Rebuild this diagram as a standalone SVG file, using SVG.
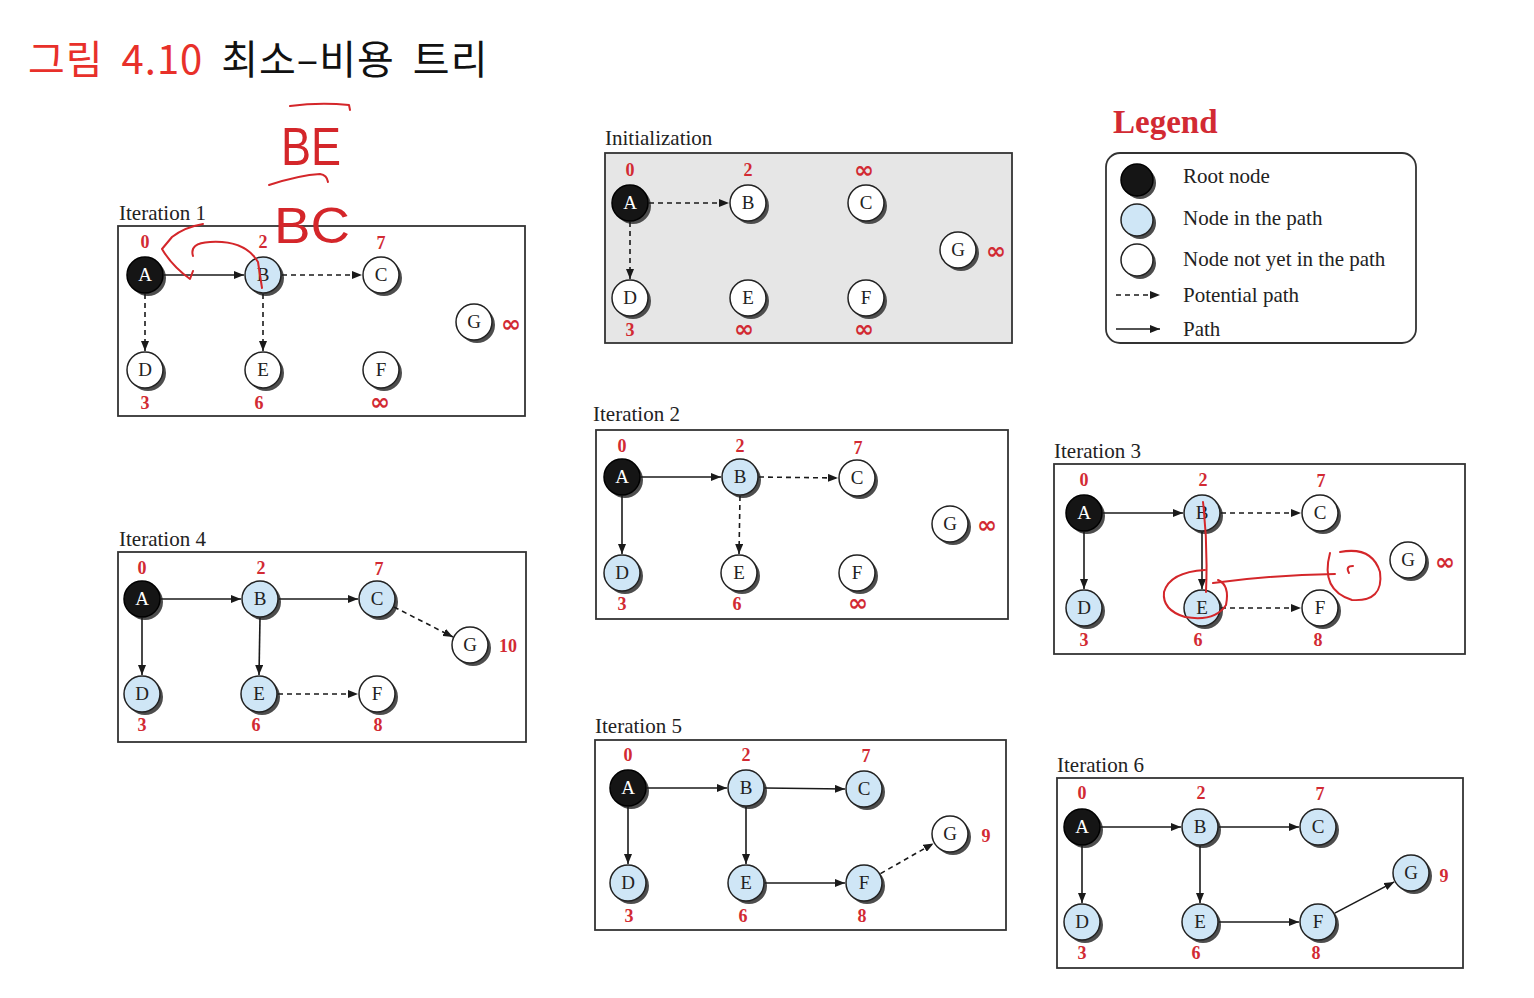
<svg xmlns="http://www.w3.org/2000/svg" width="1534" height="998" viewBox="0 0 1534 998">
<defs>
<marker id="ah" markerUnits="userSpaceOnUse" markerWidth="10" markerHeight="8" refX="10" refY="4" orient="auto"><path d="M0,0 L10,4 L0,8 z" fill="#1a1a1a"/></marker>
<style>
.ttl{font-family:"Liberation Serif",serif;font-size:21px;fill:#222}
.num{font-family:"Liberation Serif",serif;font-size:18px;font-weight:bold;fill:#d22a33;text-anchor:middle}
.inf{font-family:"DejaVu Sans",sans-serif;font-size:24px;font-weight:bold;fill:#d22a33;text-anchor:middle}
.nt{font-family:"Liberation Serif",serif;font-size:19px;text-anchor:middle;fill:#222}
.w{fill:#fff}
.sh{fill:#4d4d4d}
.root{fill:#151515;stroke:#000;stroke-width:1.5}
.inp{fill:#cfe6f6;stroke:#222;stroke-width:1.5}
.not{fill:#fff;stroke:#222;stroke-width:1.5}
.panel{fill:#fff;stroke:#333;stroke-width:1.8}
.solid{stroke:#1a1a1a;stroke-width:1.6;fill:none;marker-end:url(#ah)}
.dash{stroke:#1a1a1a;stroke-width:1.6;fill:none;stroke-dasharray:5,4;marker-end:url(#ah)}
.ink{stroke:#d4262a;stroke-width:2;fill:none;stroke-linecap:round;stroke-linejoin:round}
.hand{font-family:"Liberation Sans",sans-serif;fill:#d4262a;font-weight:normal}
.leg{font-family:"Liberation Serif",serif;font-size:21px;fill:#222}
</style>
</defs>
<rect width="1534" height="998" fill="#fff"/>

<text x="28" y="74" font-family="'Noto Sans CJK KR',sans-serif" font-size="40" letter-spacing="1" word-spacing="8"><tspan fill="#e8302a">그림 4.10</tspan><tspan fill="#111"> 최소–비용 트리</tspan></text>

<!-- Iteration 1 -->
<g id="iter1">
<text class="ttl" x="119" y="220">Iteration 1</text>
<rect class="panel" x="118" y="226" width="407" height="190"/>
<g id="i1-A"><circle class="sh" cx="148" cy="278" r="18"/><circle class="root" cx="145" cy="275" r="18"/><text class="nt w" x="145" y="281">A</text></g>
<g id="i1-B"><circle class="sh" cx="266" cy="278" r="18"/><circle class="inp" cx="263" cy="275" r="18"/><text class="nt" x="263" y="281">B</text></g>
<g id="i1-C"><circle class="sh" cx="384" cy="278" r="18"/><circle class="not" cx="381" cy="275" r="18"/><text class="nt" x="381" y="281">C</text></g>
<g id="i1-D"><circle class="sh" cx="148" cy="373" r="18"/><circle class="not" cx="145" cy="370" r="18"/><text class="nt" x="145" y="376">D</text></g>
<g id="i1-E"><circle class="sh" cx="266" cy="373" r="18"/><circle class="not" cx="263" cy="370" r="18"/><text class="nt" x="263" y="376">E</text></g>
<g id="i1-F"><circle class="sh" cx="384" cy="373" r="18"/><circle class="not" cx="381" cy="370" r="18"/><text class="nt" x="381" y="376">F</text></g>
<g id="i1-G"><circle class="sh" cx="477" cy="325" r="18"/><circle class="not" cx="474" cy="322" r="18"/><text class="nt" x="474" y="328">G</text></g>
<text class="num" x="145" y="248">0</text><text class="num" x="263" y="248">2</text><text class="num" x="381" y="249">7</text>
<text class="num" x="145" y="409">3</text><text class="num" x="259" y="409">6</text><text class="inf" x="380" y="410">∞</text>
<text class="inf" x="511" y="332">∞</text>
</g>

<!-- Initialization -->
<g id="init">
<text class="ttl" x="605" y="145">Initialization</text>
<rect class="panel" x="605" y="153" width="407" height="190" style="fill:#e6e6e6"/>
<g id="in-A"><circle class="sh" cx="633" cy="206" r="18"/><circle class="root" cx="630" cy="203" r="18"/><text class="nt w" x="630" y="209">A</text></g>
<g id="in-B"><circle class="sh" cx="751" cy="206" r="18"/><circle class="not" cx="748" cy="203" r="18"/><text class="nt" x="748" y="209">B</text></g>
<g id="in-C"><circle class="sh" cx="869" cy="206" r="18"/><circle class="not" cx="866" cy="203" r="18"/><text class="nt" x="866" y="209">C</text></g>
<g id="in-D"><circle class="sh" cx="633" cy="301" r="18"/><circle class="not" cx="630" cy="298" r="18"/><text class="nt" x="630" y="304">D</text></g>
<g id="in-E"><circle class="sh" cx="751" cy="301" r="18"/><circle class="not" cx="748" cy="298" r="18"/><text class="nt" x="748" y="304">E</text></g>
<g id="in-F"><circle class="sh" cx="869" cy="301" r="18"/><circle class="not" cx="866" cy="298" r="18"/><text class="nt" x="866" y="304">F</text></g>
<g id="in-G"><circle class="sh" cx="961" cy="253" r="18"/><circle class="not" cx="958" cy="250" r="18"/><text class="nt" x="958" y="256">G</text></g>
<text class="num" x="630" y="176">0</text><text class="num" x="748" y="176">2</text><text class="inf" x="864" y="178">∞</text>
<text class="num" x="630" y="336">3</text><text class="inf" x="744" y="337">∞</text><text class="inf" x="864" y="337">∞</text>
<text class="inf" x="996" y="259">∞</text>
</g>

<!-- Legend -->
<g id="legend">
<text x="1113" y="133" font-family="'Liberation Serif',serif" font-size="33" font-weight="bold" fill="#d22a33">Legend</text>
<rect x="1106" y="153" width="310" height="190" rx="14" fill="#fff" stroke="#333" stroke-width="1.8"/>
<g id="lg-root"><circle class="sh" cx="1140" cy="183" r="16"/><circle class="root" cx="1137" cy="180" r="16"/></g>
<g id="lg-inp"><circle class="sh" cx="1140" cy="223" r="16"/><circle class="inp" cx="1137" cy="220" r="16"/></g>
<g id="lg-not"><circle class="sh" cx="1140" cy="263" r="16"/><circle class="not" cx="1137" cy="260" r="16"/></g>
<line class="dash" x1="1116" y1="295" x2="1160" y2="295"/>
<line class="solid" x1="1116" y1="329" x2="1160" y2="329"/>
<text class="leg" x="1183" y="183">Root node</text>
<text class="leg" x="1183" y="225">Node in the path</text>
<text class="leg" x="1183" y="266">Node not yet in the path</text>
<text class="leg" x="1183" y="302">Potential path</text>
<text class="leg" x="1183" y="336">Path</text>
</g>

<!-- Iteration 2 -->
<g id="iter2">
<text class="ttl" x="593" y="421">Iteration 2</text>
<rect class="panel" x="596" y="430" width="412" height="189"/>
<g id="i2-A"><circle class="sh" cx="625" cy="480" r="18"/><circle class="root" cx="622" cy="477" r="18"/><text class="nt w" x="622" y="483">A</text></g>
<g id="i2-B"><circle class="sh" cx="743" cy="480" r="18"/><circle class="inp" cx="740" cy="477" r="18"/><text class="nt" x="740" y="483">B</text></g>
<g id="i2-C"><circle class="sh" cx="860" cy="481" r="18"/><circle class="not" cx="857" cy="478" r="18"/><text class="nt" x="857" y="484">C</text></g>
<g id="i2-D"><circle class="sh" cx="625" cy="576" r="18"/><circle class="inp" cx="622" cy="573" r="18"/><text class="nt" x="622" y="579">D</text></g>
<g id="i2-E"><circle class="sh" cx="742" cy="576" r="18"/><circle class="not" cx="739" cy="573" r="18"/><text class="nt" x="739" y="579">E</text></g>
<g id="i2-F"><circle class="sh" cx="860" cy="576" r="18"/><circle class="not" cx="857" cy="573" r="18"/><text class="nt" x="857" y="579">F</text></g>
<g id="i2-G"><circle class="sh" cx="953" cy="527" r="18"/><circle class="not" cx="950" cy="524" r="18"/><text class="nt" x="950" y="530">G</text></g>
<text class="num" x="622" y="452">0</text><text class="num" x="740" y="452">2</text><text class="num" x="858" y="454">7</text>
<text class="num" x="622" y="610">3</text><text class="num" x="737" y="610">6</text><text class="inf" x="858" y="611">∞</text>
<text class="inf" x="987" y="533">∞</text>
</g>

<!-- Iteration 3 -->
<g id="iter3">
<text class="ttl" x="1054" y="458">Iteration 3</text>
<rect class="panel" x="1054" y="464" width="411" height="190"/>
<g id="i3-A"><circle class="sh" cx="1087" cy="516" r="18"/><circle class="root" cx="1084" cy="513" r="18"/><text class="nt w" x="1084" y="519">A</text></g>
<g id="i3-B"><circle class="sh" cx="1205" cy="516" r="18"/><circle class="inp" cx="1202" cy="513" r="18"/><text class="nt" x="1202" y="519">B</text></g>
<g id="i3-C"><circle class="sh" cx="1323" cy="516" r="18"/><circle class="not" cx="1320" cy="513" r="18"/><text class="nt" x="1320" y="519">C</text></g>
<g id="i3-D"><circle class="sh" cx="1087" cy="611" r="18"/><circle class="inp" cx="1084" cy="608" r="18"/><text class="nt" x="1084" y="614">D</text></g>
<g id="i3-E"><circle class="sh" cx="1205" cy="611" r="18"/><circle class="inp" cx="1202" cy="608" r="18"/><text class="nt" x="1202" y="614">E</text></g>
<g id="i3-F"><circle class="sh" cx="1323" cy="611" r="18"/><circle class="not" cx="1320" cy="608" r="18"/><text class="nt" x="1320" y="614">F</text></g>
<g id="i3-G"><circle class="sh" cx="1411" cy="563" r="18"/><circle class="not" cx="1408" cy="560" r="18"/><text class="nt" x="1408" y="566">G</text></g>
<text class="num" x="1084" y="486">0</text><text class="num" x="1203" y="486">2</text><text class="num" x="1321" y="487">7</text>
<text class="num" x="1084" y="646">3</text><text class="num" x="1198" y="646">6</text><text class="num" x="1318" y="646">8</text>
<text class="inf" x="1445" y="570">∞</text>
</g>

<!-- Iteration 4 -->
<g id="iter4">
<text class="ttl" x="119" y="546">Iteration 4</text>
<rect class="panel" x="118" y="552" width="408" height="190"/>
<g id="i4-A"><circle class="sh" cx="145" cy="602" r="18"/><circle class="root" cx="142" cy="599" r="18"/><text class="nt w" x="142" y="605">A</text></g>
<g id="i4-B"><circle class="sh" cx="263" cy="602" r="18"/><circle class="inp" cx="260" cy="599" r="18"/><text class="nt" x="260" y="605">B</text></g>
<g id="i4-C"><circle class="sh" cx="380" cy="602" r="18"/><circle class="inp" cx="377" cy="599" r="18"/><text class="nt" x="377" y="605">C</text></g>
<g id="i4-D"><circle class="sh" cx="145" cy="697" r="18"/><circle class="inp" cx="142" cy="694" r="18"/><text class="nt" x="142" y="700">D</text></g>
<g id="i4-E"><circle class="sh" cx="262" cy="697" r="18"/><circle class="inp" cx="259" cy="694" r="18"/><text class="nt" x="259" y="700">E</text></g>
<g id="i4-F"><circle class="sh" cx="380" cy="697" r="18"/><circle class="not" cx="377" cy="694" r="18"/><text class="nt" x="377" y="700">F</text></g>
<g id="i4-G"><circle class="sh" cx="473" cy="648" r="18"/><circle class="not" cx="470" cy="645" r="18"/><text class="nt" x="470" y="651">G</text></g>
<text class="num" x="142" y="574">0</text><text class="num" x="261" y="574">2</text><text class="num" x="379" y="575">7</text>
<text class="num" x="142" y="731">3</text><text class="num" x="256" y="731">6</text><text class="num" x="378" y="731">8</text>
<text class="num" x="508" y="652">10</text>
</g>

<!-- Iteration 5 -->
<g id="iter5">
<text class="ttl" x="595" y="733">Iteration 5</text>
<rect class="panel" x="595" y="740" width="411" height="190"/>
<g id="i5-A"><circle class="sh" cx="631" cy="791" r="18"/><circle class="root" cx="628" cy="788" r="18"/><text class="nt w" x="628" y="794">A</text></g>
<g id="i5-B"><circle class="sh" cx="749" cy="791" r="18"/><circle class="inp" cx="746" cy="788" r="18"/><text class="nt" x="746" y="794">B</text></g>
<g id="i5-C"><circle class="sh" cx="867" cy="792" r="18"/><circle class="inp" cx="864" cy="789" r="18"/><text class="nt" x="864" y="795">C</text></g>
<g id="i5-D"><circle class="sh" cx="631" cy="886" r="18"/><circle class="inp" cx="628" cy="883" r="18"/><text class="nt" x="628" y="889">D</text></g>
<g id="i5-E"><circle class="sh" cx="749" cy="886" r="18"/><circle class="inp" cx="746" cy="883" r="18"/><text class="nt" x="746" y="889">E</text></g>
<g id="i5-F"><circle class="sh" cx="867" cy="886" r="18"/><circle class="inp" cx="864" cy="883" r="18"/><text class="nt" x="864" y="889">F</text></g>
<g id="i5-G"><circle class="sh" cx="953" cy="837" r="18"/><circle class="not" cx="950" cy="834" r="18"/><text class="nt" x="950" y="840">G</text></g>
<text class="num" x="628" y="761">0</text><text class="num" x="746" y="761">2</text><text class="num" x="866" y="762">7</text>
<text class="num" x="629" y="922">3</text><text class="num" x="743" y="922">6</text><text class="num" x="862" y="922">8</text>
<text class="num" x="986" y="842">9</text>
</g>

<!-- Iteration 6 -->
<g id="iter6">
<text class="ttl" x="1057" y="772">Iteration 6</text>
<rect class="panel" x="1057" y="778" width="406" height="190"/>
<g id="i6-A"><circle class="sh" cx="1085" cy="830" r="18"/><circle class="root" cx="1082" cy="827" r="18"/><text class="nt w" x="1082" y="833">A</text></g>
<g id="i6-B"><circle class="sh" cx="1203" cy="830" r="18"/><circle class="inp" cx="1200" cy="827" r="18"/><text class="nt" x="1200" y="833">B</text></g>
<g id="i6-C"><circle class="sh" cx="1321" cy="830" r="18"/><circle class="inp" cx="1318" cy="827" r="18"/><text class="nt" x="1318" y="833">C</text></g>
<g id="i6-D"><circle class="sh" cx="1085" cy="925" r="18"/><circle class="inp" cx="1082" cy="922" r="18"/><text class="nt" x="1082" y="928">D</text></g>
<g id="i6-E"><circle class="sh" cx="1203" cy="925" r="18"/><circle class="inp" cx="1200" cy="922" r="18"/><text class="nt" x="1200" y="928">E</text></g>
<g id="i6-F"><circle class="sh" cx="1321" cy="925" r="18"/><circle class="inp" cx="1318" cy="922" r="18"/><text class="nt" x="1318" y="928">F</text></g>
<g id="i6-G"><circle class="sh" cx="1414" cy="876" r="18"/><circle class="inp" cx="1411" cy="873" r="18"/><text class="nt" x="1411" y="879">G</text></g>
<text class="num" x="1082" y="799">0</text><text class="num" x="1201" y="799">2</text><text class="num" x="1320" y="800">7</text>
<text class="num" x="1082" y="959">3</text><text class="num" x="1196" y="959">6</text><text class="num" x="1316" y="959">8</text>
<text class="num" x="1444" y="882">9</text>
</g>

<!-- Connectors -->
<g id="connectors">
<line class="solid" x1="164" y1="275" x2="244" y2="275"/>
<line class="dash" x1="282" y1="275" x2="362" y2="275"/>
<line class="dash" x1="145" y1="294" x2="145" y2="351"/>
<line class="dash" x1="263" y1="294" x2="263" y2="351"/>

<line class="dash" x1="649" y1="203" x2="729" y2="203"/>
<line class="dash" x1="630" y1="222" x2="630" y2="279"/>

<line class="solid" x1="641" y1="477" x2="721" y2="477"/>
<line class="dash" x1="759" y1="477" x2="838" y2="478"/>
<line class="solid" x1="622" y1="496" x2="622" y2="554"/>
<line class="dash" x1="740" y1="496" x2="739" y2="554"/>

<line class="solid" x1="1103" y1="513" x2="1183" y2="513"/>
<line class="dash" x1="1221" y1="513" x2="1301" y2="513"/>
<line class="solid" x1="1084" y1="532" x2="1084" y2="589"/>
<line class="solid" x1="1202" y1="532" x2="1202" y2="589"/>
<line class="dash" x1="1221" y1="608" x2="1301" y2="608"/>

<line class="solid" x1="161" y1="599" x2="241" y2="599"/>
<line class="solid" x1="279" y1="599" x2="358" y2="599"/>
<line class="solid" x1="142" y1="618" x2="142" y2="675"/>
<line class="solid" x1="260" y1="618" x2="259" y2="675"/>
<line class="dash" x1="394" y1="607" x2="453" y2="637"/>
<line class="dash" x1="278" y1="694" x2="358" y2="694"/>

<line class="solid" x1="647" y1="788" x2="727" y2="788"/>
<line class="solid" x1="765" y1="788" x2="845" y2="789"/>
<line class="solid" x1="628" y1="807" x2="628" y2="864"/>
<line class="solid" x1="746" y1="807" x2="746" y2="864"/>
<line class="solid" x1="765" y1="883" x2="845" y2="883"/>
<line class="dash" x1="880.5" y1="873.6" x2="933.5" y2="843.4"/>

<line class="solid" x1="1101" y1="827" x2="1181" y2="827"/>
<line class="solid" x1="1219" y1="827" x2="1299" y2="827"/>
<line class="solid" x1="1082" y1="846" x2="1082" y2="903"/>
<line class="solid" x1="1200" y1="846" x2="1200" y2="903"/>
<line class="solid" x1="1219" y1="922" x2="1299" y2="922"/>
<line class="solid" x1="1334.8" y1="913.1" x2="1394.2" y2="881.9"/>
</g>

<!-- Handwritten annotations -->
<g id="annotations">
<path class="ink" d="M290,106 Q320,102 349,105 L350,110"/>
<text class="hand" x="281" y="165" font-size="54" textLength="60" lengthAdjust="spacingAndGlyphs">BE</text>
<path class="ink" d="M269,185 Q300,175 320,174 Q327,175 328,182"/>
<text class="hand" x="274" y="243" font-size="50" textLength="76" lengthAdjust="spacingAndGlyphs">BC</text>
<path class="ink" d="M203,224 Q185,227 172,237 L162,249 Q172,266 190,279 L193,271"/>
<path class="ink" d="M193,256 Q189,243 210,242 Q245,240 258,262 L262,288"/>
<path class="ink" d="M1203,502 Q1208,545 1206,592"/>
<path class="ink" d="M1218,580 Q1230,585 1226,605 Q1215,622 1185,617 Q1162,610 1164,592 Q1170,572 1205,570"/>
<path class="ink" d="M1213,583 Q1270,575 1335,574"/>
<path class="ink" d="M1330,553 Q1320,590 1352,600 Q1384,602 1380,572 Q1372,546 1340,552"/>
<path class="ink" d="M1353,566 Q1345,566 1349,573"/>
</g>
</svg>
